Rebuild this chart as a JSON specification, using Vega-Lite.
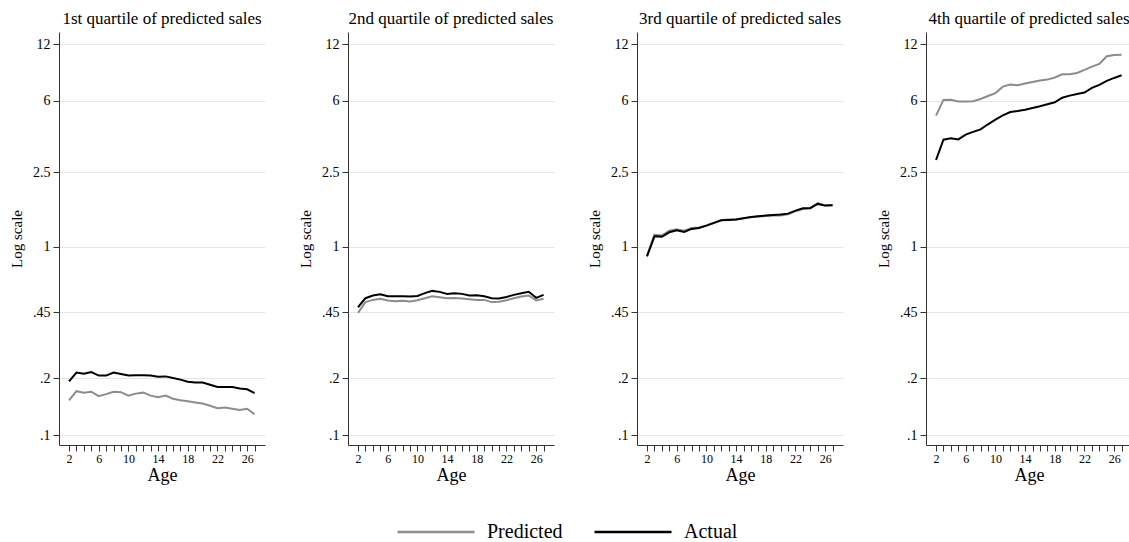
{
  "$schema": "https://vega.github.io/schema/vega-lite/v6.json",
  "padding": {"left": 9, "top": 10, "right": 0, "bottom": 0},
  "background": "white",
  "data": {"values": [
    {"p": "1st quartile of predicted sales", "age": 2, "Predicted": 0.153, "Actual": 0.193},
    {"p": "1st quartile of predicted sales", "age": 3, "Predicted": 0.171, "Actual": 0.215},
    {"p": "1st quartile of predicted sales", "age": 4, "Predicted": 0.168, "Actual": 0.212},
    {"p": "1st quartile of predicted sales", "age": 5, "Predicted": 0.170, "Actual": 0.216},
    {"p": "1st quartile of predicted sales", "age": 6, "Predicted": 0.161, "Actual": 0.207},
    {"p": "1st quartile of predicted sales", "age": 7, "Predicted": 0.165, "Actual": 0.207},
    {"p": "1st quartile of predicted sales", "age": 8, "Predicted": 0.170, "Actual": 0.215},
    {"p": "1st quartile of predicted sales", "age": 9, "Predicted": 0.169, "Actual": 0.211},
    {"p": "1st quartile of predicted sales", "age": 10, "Predicted": 0.162, "Actual": 0.207},
    {"p": "1st quartile of predicted sales", "age": 11, "Predicted": 0.166, "Actual": 0.208},
    {"p": "1st quartile of predicted sales", "age": 12, "Predicted": 0.168, "Actual": 0.208},
    {"p": "1st quartile of predicted sales", "age": 13, "Predicted": 0.162, "Actual": 0.207},
    {"p": "1st quartile of predicted sales", "age": 14, "Predicted": 0.159, "Actual": 0.204},
    {"p": "1st quartile of predicted sales", "age": 15, "Predicted": 0.162, "Actual": 0.205},
    {"p": "1st quartile of predicted sales", "age": 16, "Predicted": 0.156, "Actual": 0.201},
    {"p": "1st quartile of predicted sales", "age": 17, "Predicted": 0.153, "Actual": 0.197},
    {"p": "1st quartile of predicted sales", "age": 18, "Predicted": 0.151, "Actual": 0.192},
    {"p": "1st quartile of predicted sales", "age": 19, "Predicted": 0.149, "Actual": 0.190},
    {"p": "1st quartile of predicted sales", "age": 20, "Predicted": 0.147, "Actual": 0.190},
    {"p": "1st quartile of predicted sales", "age": 21, "Predicted": 0.143, "Actual": 0.185},
    {"p": "1st quartile of predicted sales", "age": 22, "Predicted": 0.139, "Actual": 0.180},
    {"p": "1st quartile of predicted sales", "age": 23, "Predicted": 0.140, "Actual": 0.180},
    {"p": "1st quartile of predicted sales", "age": 24, "Predicted": 0.138, "Actual": 0.180},
    {"p": "1st quartile of predicted sales", "age": 25, "Predicted": 0.136, "Actual": 0.177},
    {"p": "1st quartile of predicted sales", "age": 26, "Predicted": 0.138, "Actual": 0.175},
    {"p": "1st quartile of predicted sales", "age": 27, "Predicted": 0.129, "Actual": 0.167},
    {"p": "2nd quartile of predicted sales", "age": 2, "Predicted": 0.446, "Actual": 0.478},
    {"p": "2nd quartile of predicted sales", "age": 3, "Predicted": 0.509, "Actual": 0.534},
    {"p": "2nd quartile of predicted sales", "age": 4, "Predicted": 0.523, "Actual": 0.552},
    {"p": "2nd quartile of predicted sales", "age": 5, "Predicted": 0.530, "Actual": 0.561},
    {"p": "2nd quartile of predicted sales", "age": 6, "Predicted": 0.519, "Actual": 0.547},
    {"p": "2nd quartile of predicted sales", "age": 7, "Predicted": 0.515, "Actual": 0.547},
    {"p": "2nd quartile of predicted sales", "age": 8, "Predicted": 0.517, "Actual": 0.547},
    {"p": "2nd quartile of predicted sales", "age": 9, "Predicted": 0.513, "Actual": 0.545},
    {"p": "2nd quartile of predicted sales", "age": 10, "Predicted": 0.521, "Actual": 0.549},
    {"p": "2nd quartile of predicted sales", "age": 11, "Predicted": 0.534, "Actual": 0.568},
    {"p": "2nd quartile of predicted sales", "age": 12, "Predicted": 0.547, "Actual": 0.584},
    {"p": "2nd quartile of predicted sales", "age": 13, "Predicted": 0.540, "Actual": 0.577},
    {"p": "2nd quartile of predicted sales", "age": 14, "Predicted": 0.534, "Actual": 0.563},
    {"p": "2nd quartile of predicted sales", "age": 15, "Predicted": 0.536, "Actual": 0.568},
    {"p": "2nd quartile of predicted sales", "age": 16, "Predicted": 0.532, "Actual": 0.563},
    {"p": "2nd quartile of predicted sales", "age": 17, "Predicted": 0.527, "Actual": 0.552},
    {"p": "2nd quartile of predicted sales", "age": 18, "Predicted": 0.523, "Actual": 0.554},
    {"p": "2nd quartile of predicted sales", "age": 19, "Predicted": 0.523, "Actual": 0.547},
    {"p": "2nd quartile of predicted sales", "age": 20, "Predicted": 0.509, "Actual": 0.534},
    {"p": "2nd quartile of predicted sales", "age": 21, "Predicted": 0.511, "Actual": 0.532},
    {"p": "2nd quartile of predicted sales", "age": 22, "Predicted": 0.521, "Actual": 0.542},
    {"p": "2nd quartile of predicted sales", "age": 23, "Predicted": 0.534, "Actual": 0.556},
    {"p": "2nd quartile of predicted sales", "age": 24, "Predicted": 0.545, "Actual": 0.568},
    {"p": "2nd quartile of predicted sales", "age": 25, "Predicted": 0.552, "Actual": 0.578},
    {"p": "2nd quartile of predicted sales", "age": 26, "Predicted": 0.519, "Actual": 0.536},
    {"p": "2nd quartile of predicted sales", "age": 27, "Predicted": 0.530, "Actual": 0.556},
    {"p": "3rd quartile of predicted sales", "age": 2, "Predicted": 0.90, "Actual": 0.892},
    {"p": "3rd quartile of predicted sales", "age": 3, "Predicted": 1.16, "Actual": 1.139},
    {"p": "3rd quartile of predicted sales", "age": 4, "Predicted": 1.15, "Actual": 1.135},
    {"p": "3rd quartile of predicted sales", "age": 5, "Predicted": 1.22, "Actual": 1.197},
    {"p": "3rd quartile of predicted sales", "age": 6, "Predicted": 1.24, "Actual": 1.226},
    {"p": "3rd quartile of predicted sales", "age": 7, "Predicted": 1.22, "Actual": 1.202},
    {"p": "3rd quartile of predicted sales", "age": 8, "Predicted": 1.26, "Actual": 1.247},
    {"p": "3rd quartile of predicted sales", "age": 9, "Predicted": 1.27, "Actual": 1.262},
    {"p": "3rd quartile of predicted sales", "age": 10, "Predicted": 1.30, "Actual": 1.298},
    {"p": "3rd quartile of predicted sales", "age": 11, "Predicted": 1.34, "Actual": 1.342},
    {"p": "3rd quartile of predicted sales", "age": 12, "Predicted": 1.39, "Actual": 1.386},
    {"p": "3rd quartile of predicted sales", "age": 13, "Predicted": 1.40, "Actual": 1.392},
    {"p": "3rd quartile of predicted sales", "age": 14, "Predicted": 1.40, "Actual": 1.398},
    {"p": "3rd quartile of predicted sales", "age": 15, "Predicted": 1.42, "Actual": 1.421},
    {"p": "3rd quartile of predicted sales", "age": 16, "Predicted": 1.44, "Actual": 1.444},
    {"p": "3rd quartile of predicted sales", "age": 17, "Predicted": 1.45, "Actual": 1.456},
    {"p": "3rd quartile of predicted sales", "age": 18, "Predicted": 1.46, "Actual": 1.468},
    {"p": "3rd quartile of predicted sales", "age": 19, "Predicted": 1.47, "Actual": 1.480},
    {"p": "3rd quartile of predicted sales", "age": 20, "Predicted": 1.47, "Actual": 1.486},
    {"p": "3rd quartile of predicted sales", "age": 21, "Predicted": 1.49, "Actual": 1.504},
    {"p": "3rd quartile of predicted sales", "age": 22, "Predicted": 1.55, "Actual": 1.561},
    {"p": "3rd quartile of predicted sales", "age": 23, "Predicted": 1.59, "Actual": 1.605},
    {"p": "3rd quartile of predicted sales", "age": 24, "Predicted": 1.60, "Actual": 1.612},
    {"p": "3rd quartile of predicted sales", "age": 25, "Predicted": 1.71, "Actual": 1.694},
    {"p": "3rd quartile of predicted sales", "age": 26, "Predicted": 1.66, "Actual": 1.659},
    {"p": "3rd quartile of predicted sales", "age": 27, "Predicted": 1.67, "Actual": 1.665},
    {"p": "4th quartile of predicted sales", "age": 2, "Predicted": 4.99, "Actual": 2.90},
    {"p": "4th quartile of predicted sales", "age": 3, "Predicted": 6.05, "Actual": 3.72},
    {"p": "4th quartile of predicted sales", "age": 4, "Predicted": 6.07, "Actual": 3.78},
    {"p": "4th quartile of predicted sales", "age": 5, "Predicted": 5.93, "Actual": 3.73},
    {"p": "4th quartile of predicted sales", "age": 6, "Predicted": 5.93, "Actual": 3.96},
    {"p": "4th quartile of predicted sales", "age": 7, "Predicted": 5.95, "Actual": 4.09},
    {"p": "4th quartile of predicted sales", "age": 8, "Predicted": 6.12, "Actual": 4.22},
    {"p": "4th quartile of predicted sales", "age": 9, "Predicted": 6.35, "Actual": 4.49},
    {"p": "4th quartile of predicted sales", "age": 10, "Predicted": 6.58, "Actual": 4.75},
    {"p": "4th quartile of predicted sales", "age": 11, "Predicted": 7.12, "Actual": 5.01},
    {"p": "4th quartile of predicted sales", "age": 12, "Predicted": 7.30, "Actual": 5.22},
    {"p": "4th quartile of predicted sales", "age": 13, "Predicted": 7.25, "Actual": 5.28},
    {"p": "4th quartile of predicted sales", "age": 14, "Predicted": 7.39, "Actual": 5.37},
    {"p": "4th quartile of predicted sales", "age": 15, "Predicted": 7.54, "Actual": 5.48},
    {"p": "4th quartile of predicted sales", "age": 16, "Predicted": 7.67, "Actual": 5.60},
    {"p": "4th quartile of predicted sales", "age": 17, "Predicted": 7.76, "Actual": 5.74},
    {"p": "4th quartile of predicted sales", "age": 18, "Predicted": 7.96, "Actual": 5.88},
    {"p": "4th quartile of predicted sales", "age": 19, "Predicted": 8.29, "Actual": 6.22},
    {"p": "4th quartile of predicted sales", "age": 20, "Predicted": 8.29, "Actual": 6.38},
    {"p": "4th quartile of predicted sales", "age": 21, "Predicted": 8.42, "Actual": 6.51},
    {"p": "4th quartile of predicted sales", "age": 22, "Predicted": 8.74, "Actual": 6.62},
    {"p": "4th quartile of predicted sales", "age": 23, "Predicted": 9.10, "Actual": 7.01},
    {"p": "4th quartile of predicted sales", "age": 24, "Predicted": 9.40, "Actual": 7.27},
    {"p": "4th quartile of predicted sales", "age": 25, "Predicted": 10.33, "Actual": 7.64},
    {"p": "4th quartile of predicted sales", "age": 26, "Predicted": 10.50, "Actual": 7.92},
    {"p": "4th quartile of predicted sales", "age": 27, "Predicted": 10.53, "Actual": 8.18}
  ]},
  "transform": [{"fold": ["Predicted", "Actual"], "as": ["series", "value"]}],
  "facet": {
    "column": {
      "field": "p", "type": "nominal",
      "header": {"title": null, "labelFont": "Liberation Serif", "labelFontSize": 17, "labelColor": "black", "labelPadding": 4}
    }
  },
  "spacing": 83,
  "bounds": "flush",
  "resolve": {"axis": {"y": "independent", "x": "independent"}},
  "spec": {
    "width": 206,
    "height": 413,
    "mark": {"type": "line", "strokeWidth": 2},
    "encoding": {
      "x": {
        "field": "age", "type": "quantitative",
        "scale": {"domain": [0.65, 28.4], "nice": false, "zero": false},
        "axis": {
          "title": "Age", "titleFontSize": 18, "titleFontWeight": "normal", "titleColor": "black", "titlePadding": 2,
          "values": [2,3,4,5,6,7,8,9,10,11,12,13,14,15,16,17,18,19,20,21,22,23,24,25,26,27],
          "labelExpr": "(datum.value - 2) % 4 == 0 ? datum.label : ''",
          "labelFontSize": 12, "labelColor": "black", "labelPadding": 2, "labelFlush": false, "labelOverlap": false,
          "tickSize": 6, "tickColor": "#333", "domainColor": "#333", "grid": false
        }
      },
      "y": {
        "field": "value", "type": "quantitative",
        "scale": {"type": "log", "domain": [0.0885, 13.9], "nice": false},
        "axis": {
          "title": "Log scale", "titleFontSize": 15, "titleFontWeight": "normal", "titleColor": "black", "titlePadding": 8,
          "values": [0.1, 0.2, 0.45, 1, 2.5, 6, 12],
          "labelExpr": "datum.value < 1 ? slice(toString(datum.value), 1) : toString(datum.value)",
          "labelFontSize": 14, "labelColor": "black", "labelPadding": 3,
          "tickSize": 6, "tickColor": "#333", "domainColor": "#333",
          "grid": true, "gridColor": "#e6e6e6", "gridWidth": 1
        }
      },
      "color": {
        "field": "series", "type": "nominal",
        "scale": {"domain": ["Predicted", "Actual"], "range": ["#8c8c8c", "#000000"]},
        "legend": {
          "orient": "none", "legendX": 337, "legendY": 460, "direction": "horizontal", "title": null,
          "symbolType": "stroke", "symbolSize": 5929, "symbolStrokeWidth": 2.5,
          "labelFontSize": 20, "labelColor": "black", "labelOffset": 11,
          "columnPadding": 26, "padding": 0
        }
      }
    }
  },
  "config": {
    "view": {"stroke": null},
    "font": "Liberation Serif",
    "axis": {"labelFont": "Liberation Serif", "titleFont": "Liberation Serif"},
    "legend": {"labelFont": "Liberation Serif"},
    "header": {"labelFont": "Liberation Serif"}
  }
}
